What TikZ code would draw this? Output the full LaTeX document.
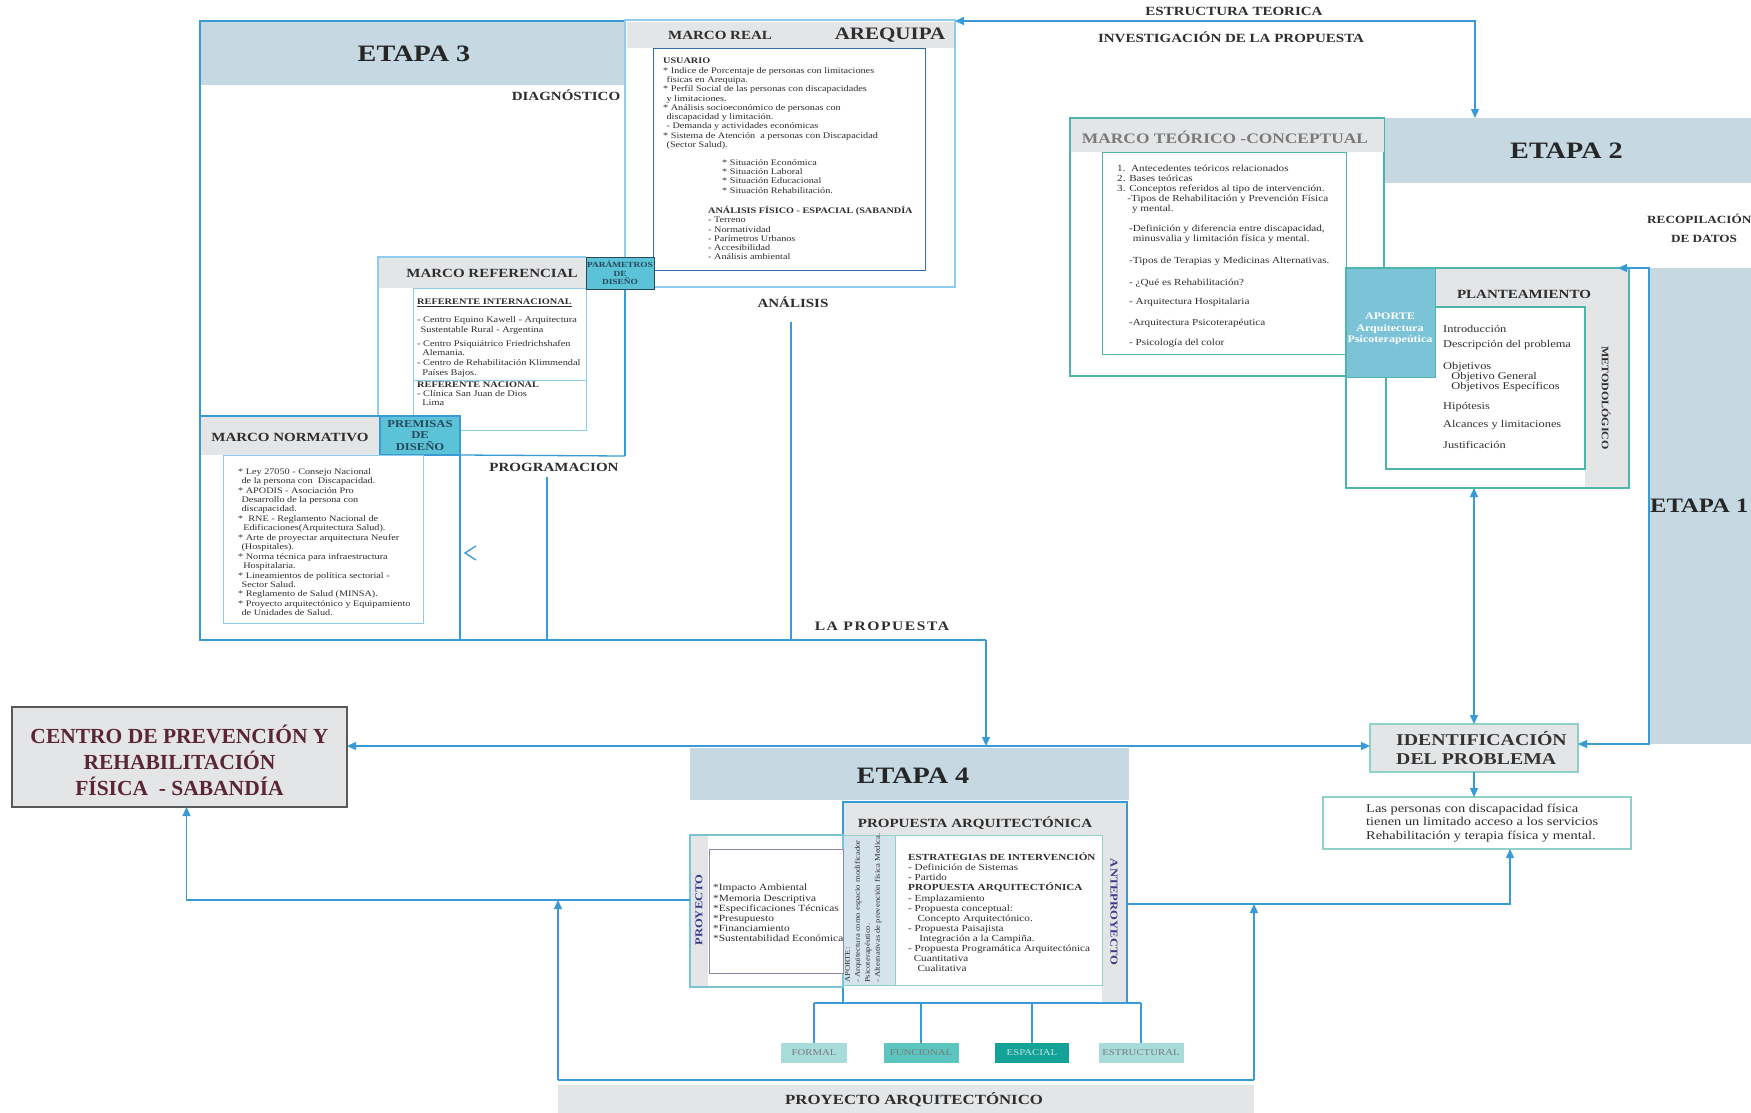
\documentclass[tikz,border=0pt]{standalone}
\usepackage{fontspec}
\setmainfont[FakeStretch=1.2]{Liberation Serif}
\newfontfamily\plainserif{Liberation Serif}
\usetikzlibrary{arrows.meta}

\definecolor{lineblue}{HTML}{3A9AD6}
\definecolor{bandblue}{HTML}{C6D9E3}
\definecolor{hdrgray}{HTML}{E4E5E7}
\definecolor{softblue}{HTML}{8FCBEA}
\definecolor{deepblue}{HTML}{2F6DB0}
\definecolor{tealline}{HTML}{4DB5AA}
\definecolor{lightteal}{HTML}{8FD0C8}
\definecolor{cyanfill}{HTML}{5BC2D8}
\definecolor{aportefill}{HTML}{7DC3D8}
\definecolor{stripfill}{HTML}{D5E3EC}
\definecolor{txt}{HTML}{2E2E2E}
\definecolor{graytxt}{HTML}{7A7A7A}
\definecolor{maroonred}{HTML}{5B2534}
\definecolor{navyblue}{HTML}{3B3B8A}
\definecolor{slate}{HTML}{27495A}
\definecolor{lilac}{HTML}{8E87A6}
\definecolor{tealA}{HTML}{A7DCDA}
\definecolor{tealB}{HTML}{5CC5C0}
\definecolor{tealC}{HTML}{12A297}

\newcommand\fs[2]{\fontsize{#1}{#2}\selectfont}
% rectangle node given by its top-left and bottom-right corners
\newcommand\rectnode[6]{\node[rectangle,outer sep=0pt,anchor=north west,minimum width=#5pt-#3pt,minimum height=#6pt-#4pt,#1] (#2) at (#3,#4) {};}

\tikzset{
  every node/.style={text=txt, inner sep=0pt},
  conn/.style={draw=lineblue, line width=1.3pt},
  tipped/.style={conn, -{Triangle[width=8pt,length=9pt]}},
  twotip/.style={conn, {Triangle[width=8pt,length=9pt]}-{Triangle[width=8pt,length=9pt]}},
  lbl/.style={font=\bfseries\fs{12.5}{14}},
  etapa/.style={font=\bfseries\fs{23.5}{26}, text=black!85},
  body/.style={font=\fs{8.5}{9.3}, align=left, anchor=north west},
  tagbox/.style={minimum height=20pt, font=\fs{9}{10}, text=graytxt},
}

\begin{document}
\begin{tikzpicture}[x=1pt,y=-1pt]
\useasboundingbox (0,0) rectangle (1751,1112);
\fill[white] (0,0) rectangle (1751,1112);

% ================= ETAPA 3 =================
\rectnode{fill=bandblue}{etapa3band}{200}{21}{625}{85}
\node[etapa] (etapa3) at (414,54) {ETAPA 3};
\coordinate (e3ne) at (625,21);
\coordinate (e3nw) at (200,21);
\coordinate (e3sw) at (200,640);
\coordinate (e3re) at (625,456);
\coordinate (lpturn) at (986,640);
\draw[conn] (e3re) -- (e3ne) -- (e3nw) -- (e3sw) -- (lpturn);
\node[lbl] (diag) at (566,95) {DIAGNÓSTICO};

% Marco real
\rectnode{draw=softblue,line width=2.5pt,fill=white}{mreal}{625}{20}{955}{287}
\rectnode{fill=hdrgray}{mrealhdr}{626.5}{21.5}{953.5}{48}
\rectnode{draw=deepblue,line width=1pt,fill=white}{mrealin}{653}{48}{925}{270}
\node[lbl] (mrealtit) at (720,35) {MARCO REAL};
\node[font=\bfseries\fs{17.5}{20}] (arequipa) at (890,35) {AREQUIPA};
\node[body] (usuario) at (663,58) {\textbf{USUARIO}\\
* Indice de Porcentaje de personas con limitaciones\\
\hspace*{0.4em}fisicas en Arequipa.\\
* Perfil Social de las personas con discapacidades\\
\hspace*{0.4em}y limitaciones.\\
* Análisis socioeconómico de personas con\\
\hspace*{0.4em}discapacidad y limitación.\\
\hspace*{0.4em}- Demanda y actividades económicas\\
* Sistema de Atención\ \ a personas con Discapacidad\\
\hspace*{0.4em}(Sector Salud).};
\node[body] (situacion) at (722,159) {* Situación Económica\\* Situación Laboral\\* Situación Educacional\\* Situación Rehabilitación.};
\node[body] (fisico) at (708,206) {\textbf{ANÁLISIS FÍSICO - ESPACIAL (SABANDÍA}\\- Terreno\\- Normatividad\\- Parímetros Urbanos\\- Accesibilidad\\- Análisis ambiental};

% Marco referencial
\rectnode{fill=hdrgray}{mrefhdr}{378}{257}{586}{288}
\coordinate (mrefleg) at (378,416);
\draw[softblue,line width=1.3pt] (mrefhdr.north east) -- (mrefhdr.north west) -- (mrefleg);
\rectnode{draw=softblue,line width=1pt,fill=white}{mrefin}{413}{288}{586}{430}
\coordinate (mrefsplit) at (0,380);
\draw[softblue,line width=1pt] (mrefin.west |- mrefsplit) -- (mrefin.east |- mrefsplit);
\node[lbl] (mreftit) at (492,273) {MARCO REFERENCIAL};
\node[body,font=\fs{8.6}{9.2}] (mreftxt) at (417,299) {\textbf{\underline{REFERENTE INTERNACIONAL}}\\[8.8pt]
- Centro Equino Kawell - Arquitectura\\
\hspace*{0.4em}Sustentable Rural - Argentina\\[4.8pt]
- Centro Psiquiátrico Friedrichshafen\\
\hspace*{0.6em}Alemania.\\[0.8pt]
- Centro de Rehabilitación Klimmendal\\[0.8pt]
\hspace*{0.6em}Países Bajos.\\[2.8pt]
\textbf{REFERENTE NACIONAL}\\
- Clínica San Juan de Dios\\
\hspace*{0.6em}Lima};

% Parametros de diseno
\rectnode{draw=slate,line width=1pt,fill=cyanfill}{param}{586}{257}{654}{289}
\node[font=\bfseries\fs{7.8}{8.6},align=center,text=slate] (paramtxt) at (param.center) {PARÁMETROS\\DE\\DISEÑO};

% Marco normativo
\rectnode{draw=lineblue,line width=1.3pt}{mnorm}{200}{416}{460}{640}
\rectnode{fill=hdrgray}{mnormhdr}{201}{417}{380}{455}
\rectnode{draw=lineblue,line width=1.3pt,fill=cyanfill}{premisas}{380}{416}{460}{455}
\node[font=\bfseries\fs{10.5}{11.5},align=center,text=slate] (premtxt) at (premisas.center) {PREMISAS\\DE\\DISEÑO};
\rectnode{draw=softblue,line width=1pt,fill=white}{mnormin}{223}{455}{423}{623}
\node[lbl] (mnormtit) at (290,437) {MARCO NORMATIVO};
\node[body,font=\fs{8.5}{9.45}] (mnormtxt) at (238,468) {* Ley 27050 - Consejo Nacional\\
\hspace*{0.4em}de la persona con\ \ Discapacidad.\\
* APODIS - Asociación Pro\\
\hspace*{0.4em}Desarrollo de la persona con\\
\hspace*{0.4em}discapacidad.\\
*\ \ RNE - Reglamento Nacional de\\
\hspace*{0.6em}Edificaciones(Arquitectura Salud).\\
* Arte de proyectar arquitectura Neufer\\
\hspace*{0.4em}(Hospitales).\\
* Norma técnica para infraestructura\\
\hspace*{0.6em}Hospitalaria.\\
* Lineamientos de política sectorial -\\
\hspace*{0.4em}Sector Salud.\\
* Reglamento de Salud (MINSA).\\
* Proyecto arquitectónico y Equipamiento\\
\hspace*{0.4em}de Unidades de Salud.};
\draw[conn] (premisas.south east) -- (e3re);
\draw[lineblue,line width=1.3pt] (476,546) -- (465,553) -- (476,560);

% Programacion / analisis
\node[lbl] (programacion) at (554,467) {PROGRAMACION};
\coordinate (progfoot) at (547,640);
\draw[conn] ([yshift=-6pt]programacion.south -| progfoot) -- (progfoot);
\node[lbl] (analisis) at (793,302) {ANÁLISIS};
\coordinate (anfoot) at (791,640);
\draw[conn] ([yshift=-14pt]analisis.south -| anfoot) -- (anfoot);
\node[font=\bfseries\fs{13}{15}\addfontfeature{LetterSpace=12}] (propuesta) at (882,626) {LA PROPUESTA};

% ================= ETAPA 2 =================
\rectnode{draw=tealline,line width=1.3pt,fill=white}{mteo}{1070}{118}{1384}{376}
\rectnode{fill=hdrgray}{mteohdr}{1071}{119}{1384}{152}
\rectnode{draw=tealline,line width=1pt,fill=white}{mteoin}{1102}{152}{1346}{354}
\node[font=\bfseries\fs{14.5}{16},text=graytxt] (mteotit) at (1225,137) {MARCO TEÓRICO -CONCEPTUAL};
\node[body,font=\fs{9.3}{10}] (mteoA) at (1117,165) {1.\ \ Antecedentes teóricos relacionados\\
2. Bases teóricas\\
3. Conceptos referidos al tipo de intervención.\\
\hspace*{1.1em}-Tipos de Rehabilitación y Prevención Física\\
\hspace*{1.6em}y mental.};
\node[body,font=\fs{9.3}{10}] (mteoB) at (1129,225) {-Definición y diferencia entre discapacidad,\\
\hspace*{0.4em}minusvalia y limitación física y mental.};
\node[font=\fs{9.3}{10},anchor=west] (mteoC) at (1129,261) {-Tipos de Terapias y Medicinas Alternativas.};
\node[font=\fs{9.3}{10},anchor=west] (mteoD) at (1129,283) {- ¿Qué es Rehabilitación?};
\node[font=\fs{9.3}{10},anchor=west] (mteoE) at (1129,302) {- Arquitectura Hospitalaria};
\node[font=\fs{9.3}{10},anchor=west] (mteoF) at (1129,323) {-Arquitectura Psicoterapéutica};
\node[font=\fs{9.3}{10},anchor=west] (mteoG) at (1129,343) {- Psicología del color};

\rectnode{fill=bandblue}{etapa2band}{1385}{118}{1760}{183}
\node[etapa,anchor=west] (etapa2) at (1510,151) {ETAPA 2};
\node[font=\bfseries\fs{11}{13},anchor=west] (recop) at (1647,219) {RECOPILACIÓN};
\node[font=\bfseries\fs{11}{13}] (datos) at (1704,239) {DE DATOS};

% ================= ETAPA 1 =================
\rectnode{fill=bandblue}{etapa1band}{1649}{268}{1760}{744}
\node[etapa,font=\bfseries\fs{20.5}{24},anchor=west] (etapa1) at (1650,506) {ETAPA 1};

% Planteamiento metodologico
\rectnode{draw=tealline,line width=1.3pt,fill=white}{plant}{1346}{268}{1629}{488}
\rectnode{fill=hdrgray}{planthdr}{1435}{269}{1628}{307}
\rectnode{fill=hdrgray}{metcol}{1585}{269}{1628}{487}
\rectnode{draw=tealline,line width=1.2pt,fill=white}{plantin}{1386}{307}{1585}{469}
\rectnode{draw=tealline,line width=1pt,fill=aportefill}{aporte}{1346}{268}{1435}{377}
\node[font=\bfseries\fs{10}{11.5},align=center,text=white] (aportetxt) at (1390,329) {APORTE\\Arquitectura\\Psicoterapeútica};
\node[lbl] (planttit) at (1524,294) {PLANTEAMIENTO};
\node[font=\bfseries\fs{10}{11},rotate=-90] (metod) at (1606,398) {METODOLÓGICO};
\node[font=\fs{10.3}{12},anchor=west] (pl1) at (1443,329) {Introducción};
\node[font=\fs{10.3}{12},anchor=west] (pl2) at (1443,345) {Descripción del problema};
\node[font=\fs{10.3}{10},anchor=north west,align=left] (pl3) at (1443,362) {Objetivos\\\hspace*{0.8em}Objetivo General\\\hspace*{0.8em}Objetivos Específicos};
\node[font=\fs{10.3}{12},anchor=west] (pl4) at (1443,407) {Hipótesis};
\node[font=\fs{10.3}{12},anchor=west] (pl5) at (1443,425) {Alcances y limitaciones};
\node[font=\fs{10.3}{12},anchor=west] (pl6) at (1443,445) {Justificación};

% Identificacion del problema
\rectnode{draw=lightteal,line width=2pt,fill=hdrgray}{ident}{1370}{724}{1578}{772}
\node[font=\bfseries\fs{16.5}{19},align=left,anchor=west,text=black!80] (identtxt) at (1396,748) {IDENTIFICACIÓN\\DEL PROBLEMA};
\rectnode{draw=lightteal,line width=1.2pt,fill=white}{prob}{1323}{797}{1631}{849}
\node[font=\fs{12}{13.5},align=left,anchor=west] (probtxt) at (1366,823) {Las personas con discapacidad física\\tienen un limitado acceso a los servicios\\Rehabilitación y terapia física y mental.};

% connectors of the upper right
\coordinate (escorner) at (1475,21);
\coordinate (plantTip) at (1618,268);
\coordinate (e1top) at (1649,268);
\coordinate (e1bot) at (1649,744);
\draw[twotip] (mreal.east |- escorner) -- (escorner) -- (escorner |- etapa2band.north);
\draw[twotip] (plantTip) -- (e1top) -- (e1bot) -- (ident.east |- e1bot);
\draw[twotip] (ident.north |- plant.south) -- (ident.north);
\draw[tipped] (ident.south) -- (ident.south |- prob.north);
\node[lbl] (estruct) at (1234,11) {ESTRUCTURA TEORICA};
\node[lbl] (investig) at (1231,37) {INVESTIGACIÓN DE LA PROPUESTA};

% ================= CENTRO =================
\rectnode{draw=black!65,line width=1.5pt,fill=hdrgray}{centro}{12}{707}{347}{807}
\node[font=\plainserif\bfseries\fs{21.5}{26},align=center,text=maroonred] (centrotxt) at ([yshift=-3pt]centro.center) {CENTRO DE PREVENCIÓN Y\\REHABILITACIÓN\\FÍSICA\ \ - SABANDÍA};

% ================= ETAPA 4 =================
\rectnode{fill=bandblue}{etapa4band}{690}{748}{1129}{800}
\node[etapa] (etapa4) at (913,776) {ETAPA 4};
\coordinate (mainline) at (0,746);
\draw[twotip] (centro.east |- mainline) -- (ident.west |- mainline);
\draw[tipped] (lpturn) -- (lpturn |- mainline);

% Anteproyecto
\rectnode{draw=lineblue,line width=1.3pt,fill=white}{antep}{843}{802}{1127}{1003}
\rectnode{fill=hdrgray}{antephdr}{844}{803}{1126}{835}
\rectnode{fill=hdrgray}{antepcol}{1102}{835}{1126}{1002}
\rectnode{draw=lightteal,line width=1pt,fill=white}{antepin}{843}{835}{1102}{985}
\rectnode{draw=lightteal,line width=0.8pt,fill=stripfill}{aportestrip}{843}{835}{895}{985}
\node[lbl] (proparqtit) at (975,823) {PROPUESTA ARQUITECTÓNICA};
\node[font=\bfseries\fs{10.5}{12},rotate=-90,text=navyblue] (anteptit) at (1114,912) {ANTEPROYECTO};
\node[font=\fs{7.2}{10},rotate=90,align=left,anchor=north west] (aportestriptxt) at (845,983) {APORTE:\\- Arquitectura como espacio modificador\\Psicoterapéutico.\\- Alternativas de prevención física Medica.};
\node[body,font=\fs{9.3}{10.1}] (anteptxt) at (908,852.5) {\textbf{ESTRATEGIAS DE INTERVENCIÓN}\\
- Definición de Sistemas\\
- Partido\\
\textbf{PROPUESTA ARQUITECTÓNICA}\\
- Emplazamiento\\
- Propuesta conceptual:\\
\hspace*{1em}Concepto Arquitectónico.\\
- Propuesta Paisajista\\
\hspace*{1.2em}Integración a la Campiña.\\
- Propuesta Programática Arquitectónica\\
\hspace*{0.6em}Cuantitativa\\
\hspace*{1em}Cualitativa};

% Proyecto
\rectnode{draw=softblue!70!tealline,line width=1.2pt,fill=white}{proy}{690}{835}{843}{987}
\rectnode{fill=hdrgray}{proycol}{691}{836}{708}{986}
\rectnode{draw=lilac,line width=1pt,fill=white}{proyin}{709}{849}{843}{973}
\node[font=\bfseries\fs{10.5}{12},rotate=90,text=navyblue] (proytit) at (699,910) {PROYECTO};
\node[body,font=\fs{9.5}{10.2}] (proytxt) at (713,884) {*Impacto Ambiental\\*Memoria Descriptiva\\*Especificaciones Técnicas\\*Presupuesto\\*Financiamiento\\*Sustentabilidad Económica};

% Lower connectors
\coordinate (proyline) at (0,900);
\coordinate (rline) at (0,904);
\coordinate (bl) at (558,1080);
\coordinate (br) at (1254,1080);
\coordinate (rturn) at (1510,904);
\draw[tipped] (proy.west |- proyline) -| ([xshift=7pt]centro.south);
\draw[tipped] (bl) -- (bl |- proyline);
\draw[conn] (bl) -- (br);
\draw[tipped] (br) -- (br |- rline);
\draw[tipped] (antep.east |- rline) -- (rturn) -- (rturn |- prob.south);

% Design aspects
\node[tagbox,fill=tealA,minimum width=66pt] (formal) at (814,1053) {FORMAL};
\node[tagbox,fill=tealB,minimum width=75pt] (funcional) at (921,1053) {FUNCIONAL};
\node[tagbox,fill=tealC,minimum width=74pt,text=tealA!70!white] (espacial) at (1032,1053) {ESPACIAL};
\node[tagbox,fill=tealA,minimum width=85pt] (estructural) at (1141,1053) {ESTRUCTURAL};
\coordinate (treebar) at (0,1003);
\draw[conn,line width=1.2pt] (formal.north |- treebar) -- (estructural.north |- treebar);
\foreach \n in {formal,funcional,espacial,estructural}
  \draw[conn,line width=1.2pt] (\n.north) -- (\n.north |- treebar);

\rectnode{fill=hdrgray}{paband}{558}{1085}{1254}{1115}
\node[font=\bfseries\fs{14}{16},anchor=west] (patxt) at (785,1100) {PROYECTO ARQUITECTÓNICO};

\end{tikzpicture}
\end{document}
